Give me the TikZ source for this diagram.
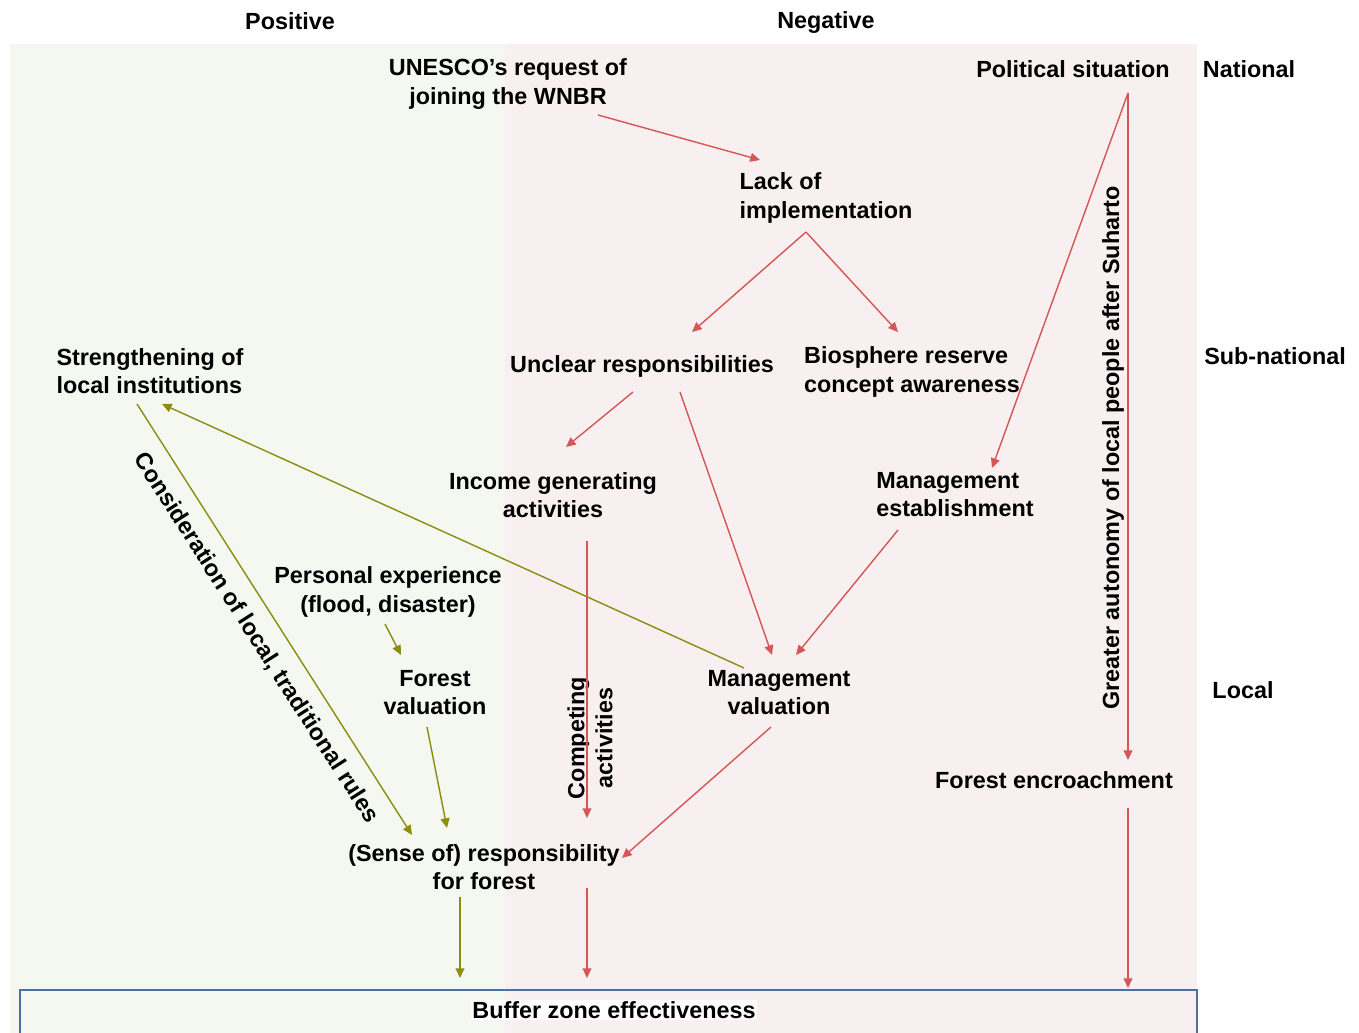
\documentclass[tikz,border=0pt]{standalone}
\usepackage{fontspec}
\setmainfont{Liberation Sans}
\usetikzlibrary{arrows.meta, calc, positioning}
\definecolor{posgreen}{RGB}{245,248,241}
\definecolor{negpink}{RGB}{248,240,240}
\definecolor{negred}{RGB}{212,86,86}
\definecolor{posolive}{RGB}{140,140,16}
\definecolor{boxblue}{RGB}{78,112,160}

\begin{document}
\begin{tikzpicture}[
    x=0.02cm, y=-0.02cm,
    txt/.style={font=\fontsize{13.3}{16}\selectfont\bfseries, align=center, inner sep=0pt},
    lefttxt/.style={txt, align=left},
    negarrow/.style={-{Triangle[length=5.5pt,width=5pt]}, negred, line width=0.8pt},
    posarrow/.style={-{Triangle[length=5.5pt,width=5pt]}, posolive, line width=0.8pt},
  ]
  \useasboundingbox (0,0) rectangle (1359,1033);
  % positive / negative areas
  \fill[posgreen] (10,44) rectangle (505,1033);
  \fill[negpink] (505,44) rectangle (1197,1033);
  \draw[boxblue, line width=1.4pt] (20,990) rectangle (1197,1050);

  % column and level headers
  \node[txt] (poshead) at (290,21) {Positive};
  \node[txt] (neghead) at (826,23) {Negative};
  \node[txt] (national) at (1249,69) {National};
  \node[txt] (subnational) at (1275,356) {Sub-national};
  \node[txt] (local) at (1243,690) {Local};

  % factors
  \node[txt] (unesco) at (508,84) {UNESCO's request of\\joining the WNBR};
  \node[txt] (political) at (1073,69) {Political situation};
  \node[lefttxt] (lack) at (826,198) {Lack of\\implementation};
  \node[txt] (unclear) at (642,366) {Unclear responsibilities};
  \node[lefttxt] (biosphere) at (912,372) {Biosphere reserve\\concept awareness};
  \node[lefttxt] (strength) at (150,371) {Strengthening of\\local institutions};
  \node[txt] (income) at (553,495) {Income generating\\activities};
  \node[lefttxt] (mest) at (955,495) {Management\\establishment};
  \node[txt] (personal) at (388,592) {Personal experience\\(flood, disaster)};
  \node[txt] (fval) at (435,693) {Forest\\valuation};
  \node[txt] (mval) at (779,693) {Management\\valuation};
  \node[txt] (encroach) at (1054,780) {Forest encroachment};
  \node[txt] (sense) at (484,867) {(Sense of) responsibility\\for forest};
  \node[txt, fill=white, inner sep=1pt] (buffer) at (614,1010) {Buffer zone effectiveness};

  % connector labels
  \node[txt, rotate=90] (competing) at (590,738) {Competing\\activities};
  \node[txt, rotate=90] (autonomy) at (1113,448) {Greater autonomy of local people after Suharto};
  \node[txt, rotate=-57.4] (consider) at (256,638) {Consideration of local, traditional rules};

  % negative influences
  \draw[negarrow] ($(unesco)+(90,31)$) -- ($(lack)+(-66,-38)$);
  \draw[negarrow] ($(lack)+(-20,34)$) -- ($(unclear)+(50,-34)$);
  \draw[negarrow] ($(lack)+(-20,34)$) -- ($(biosphere)+(-14,-40)$);
  \draw[negarrow] ($(political)+(55,24)$) -- ($(mest)+(37,-27)$);
  \draw[negarrow] ($(political)+(55,24)$) -- ($(encroach)+(74,-20)$);
  \draw[negarrow] ($(unclear)+(-9,26)$) -- ($(income)+(13,-48)$);
  \draw[negarrow] ($(unclear)+(38,26)$) -- ($(mval)+(-7,-38)$);
  \draw[negarrow] ($(mest)+(-57,35)$) -- ($(mval)+(17,-38)$);
  \draw[negarrow] ($(income)+(34,46)$) -- ($(sense)+(103,-49)$);
  \draw[negarrow] ($(mval)+(-8,34)$) -- ($(sense)+(138,-9)$);
  \draw[negarrow] ($(sense)+(103,21)$) -- ($(buffer)+(-27,-32)$);
  \draw[negarrow] ($(encroach)+(74,28)$) -- ($(buffer)+(514,-22)$);

  % positive influences
  \draw[posarrow] ($(mval)+(-35,-25)$) -- ($(strength)+(12,33)$);
  \draw[posarrow] ($(strength)+(-13,33)$) -- ($(sense)+(-72,-32)$);
  \draw[posarrow] ($(personal)+(-3,32)$) -- ($(fval)+(-34,-38)$);
  \draw[posarrow] ($(fval)+(-8,34)$) -- ($(sense)+(-37,-39)$);
  \draw[posarrow] ($(sense)+(-24,30)$) -- ($(buffer)+(-154,-32)$);
\end{tikzpicture}
\end{document}
